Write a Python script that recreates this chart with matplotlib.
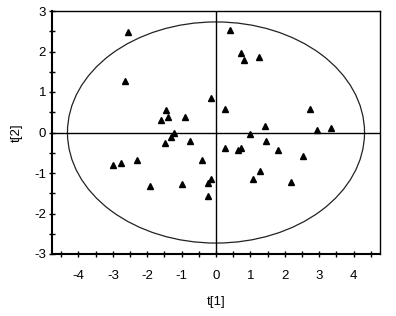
import matplotlib
matplotlib.use("Agg")
import matplotlib.pyplot as plt
from matplotlib.patches import Ellipse
from matplotlib.ticker import MultipleLocator

plt.rcParams['font.family'] = ['Liberation Sans', 'DejaVu Sans']
plt.rcParams['axes.unicode_minus'] = False

t1 = [-2.56, -2.65, -0.15, -1.45, -1.60, -1.39, -0.91, -1.21, -1.32, -1.48,
      -0.76, -3.01, -2.76, -2.29, -0.40, -1.92, -0.98, -0.15, -0.24, -0.24,
      0.41, 0.73, 0.81, 1.24, 0.26, 2.73, 1.42, 2.95, 3.34, 0.99,
      0.26, 0.65, 0.73, 1.45, 1.81, 2.54, 1.28, 1.09, 2.18]
t2 = [2.48, 1.28, 0.85, 0.55, 0.32, 0.39, 0.39, -0.01, -0.11, -0.25,
      -0.20, -0.81, -0.75, -0.67, -0.69, -1.31, -1.28, -1.16, -1.24, -1.56,
      2.52, 1.97, 1.80, 1.87, 0.58, 0.58, 0.17, 0.06, 0.11, -0.04,
      -0.38, -0.42, -0.39, -0.22, -0.42, -0.57, -0.96, -1.16, -1.22]

ellipse_a = 4.32
ellipse_b = 2.73
x_ticks = [-4, -3, -2, -1, 0, 1, 2, 3, 4]
y_ticks = [-3, -2, -1, 0, 1, 2, 3]

fig = plt.figure(figsize=(3.96, 3.16), dpi=100)
ax = fig.add_axes([52/396, 1-254/316, (380-52)/396, (254-11)/316])

ax.add_patch(Ellipse((0, 0), 2*ellipse_a, 2*ellipse_b, fill=False,
                     edgecolor='#222222', linewidth=0.9))
ax.axhline(0, color='black', linewidth=1.0)
ax.axvline(0, color='black', linewidth=1.0)
ax.plot(t1, t2, linestyle='none', marker='^', markersize=4.8,
        color='black')

ax.set_xlim(-4.77, 4.77)
ax.set_ylim(-3.0, 3.0)
ax.set_xticks(x_ticks)
ax.set_yticks(y_ticks)
ax.xaxis.set_minor_locator(MultipleLocator(0.5))
ax.yaxis.set_minor_locator(MultipleLocator(0.5))
ax.tick_params(axis='both', which='both', direction='inout', length=4.5,
               width=1.0, labelsize=9.5, colors='black')
ax.tick_params(axis='x', which='major', pad=9)
ax.tick_params(axis='y', which='major', pad=2)

for s in ['left', 'bottom']:
    ax.spines[s].set_linewidth(1.5)
for s in ['top', 'right']:
    ax.spines[s].set_linewidth(1.0)

ax.set_xlabel('t[1]', fontsize=9.5, labelpad=10)
ax.set_ylabel('t[2]', fontsize=9.5, labelpad=8)

fig.savefig('out.png', dpi=100)
